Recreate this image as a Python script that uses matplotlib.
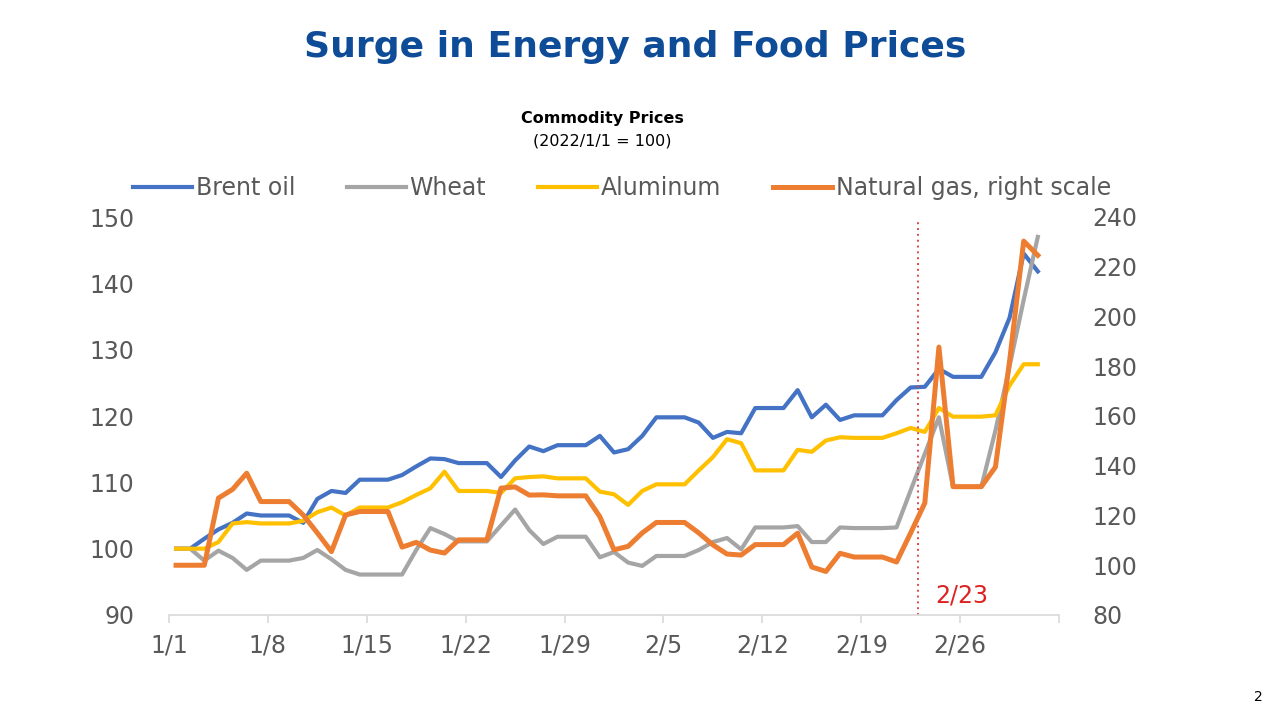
import pandas as pd
import matplotlib
matplotlib.use("Agg")
import matplotlib.pyplot as plt

# -----------------------------
# Data (index, 2022/1/1 = 100)
# -----------------------------
dates = pd.date_range("2022-01-01", "2022-03-03", freq="D")

brent = [
    100.0, 100.0, 101.5, 102.9, 103.9, 105.3, 105.0, 105.0, 105.0, 103.9,
    107.5, 108.7, 108.4, 110.4, 110.4, 110.4, 111.1, 112.4, 113.6, 113.5,
    112.9, 112.9, 112.9, 110.8, 113.3, 115.4, 114.7, 115.6, 115.6, 115.6,
    117.0, 114.5, 115.0, 117.0, 119.8, 119.8, 119.8, 119.0, 116.7, 117.6,
    117.4, 121.2, 121.2, 121.2, 123.9, 119.8, 121.7, 119.4, 120.1, 120.1,
    120.1, 122.4, 124.3, 124.4, 127.1, 125.9, 125.9, 125.9, 129.6, 134.8,
    144.5, 141.8,
]

wheat = [
    100.0, 100.0, 98.2, 99.7, 98.6, 96.8, 98.2, 98.2, 98.2, 98.6,
    99.8, 98.4, 96.8, 96.1, 96.1, 96.1, 96.1, 99.8, 103.1, 102.2,
    101.1, 101.1, 101.1, 103.5, 105.9, 102.8, 100.7, 101.8, 101.8, 101.8,
    98.7, 99.5, 97.9, 97.4, 98.9, 98.9, 98.9, 99.8, 101.0, 101.6,
    99.9, 103.2, 103.2, 103.2, 103.4, 101.0, 101.0, 103.2, 103.1, 103.1,
    103.1, 103.2, 108.8, 114.3, 119.8, 109.3, 109.3, 109.3, 117.8, 127.5,
    137.5, 147.0,
]

aluminum = [
    100.0, 100.0, 100.0, 101.0, 103.8, 104.0, 103.8, 103.8, 103.8, 104.2,
    105.5, 106.2, 105.0, 106.2, 106.2, 106.2, 107.0, 108.1, 109.1, 111.6,
    108.7, 108.7, 108.7, 108.4, 110.6, 110.8, 110.9, 110.6, 110.6, 110.6,
    108.6, 108.2, 106.6, 108.7, 109.7, 109.7, 109.7, 111.8, 113.8, 116.5,
    115.9, 111.8, 111.8, 111.8, 114.9, 114.6, 116.3, 116.8, 116.7, 116.7,
    116.7, 117.4, 118.2, 117.6, 121.2, 119.9, 119.9, 119.9, 120.1, 124.6,
    127.8, 127.8,
]

natural_gas = [
    100.0, 100.0, 100.0, 127.0, 130.5, 137.0, 125.6, 125.6, 125.6, 120.2,
    113.0, 105.5, 120.2, 121.6, 121.6, 121.6, 107.3, 109.2, 106.1, 104.9,
    110.2, 110.2, 110.2, 131.0, 131.5, 128.2, 128.3, 127.9, 127.9, 127.9,
    119.5, 106.2, 107.6, 113.0, 117.2, 117.2, 117.2, 113.0, 108.2, 104.5,
    104.1, 108.3, 108.3, 108.3, 112.9, 99.3, 97.5, 104.8, 103.3, 103.3,
    103.3, 101.3, 113.0, 125.0, 187.7, 131.6, 131.6, 131.6, 139.5, 182.0,
    230.3, 224.6,
]

tick_labels = ["1/1", "1/8", "1/15", "1/22", "1/29", "2/5", "2/12", "2/19", "2/26", ""]
event_day = pd.Timestamp("2022-02-23")

# -----------------------------
# Style
# -----------------------------
plt.rcParams["font.family"] = ["DejaVu Sans"]

BLUE = "#4472C4"
GRAY = "#A5A5A5"
GOLD = "#FFC000"
ORANGE = "#ED7D31"
TEXT = "#595959"

# day positions, each point sits in the middle of its day slot
x = [(d - dates[0]).days + 0.5 for d in dates]
x_event = (event_day - dates[0]).days

fig = plt.figure(figsize=(12.8, 7.2), dpi=100)
ax = fig.add_axes([169 / 1280, 1 - 615 / 720, 890 / 1280, 398 / 720])
ax2 = ax.twinx()

ax.plot(x, brent, color=BLUE, lw=3.0, label="Brent oil", solid_joinstyle="round")
ax.plot(x, wheat, color=GRAY, lw=3.0, label="Wheat", solid_joinstyle="round")
ax.plot(x, aluminum, color=GOLD, lw=3.0, label="Aluminum", solid_joinstyle="round")
ax2.plot(x, natural_gas, color=ORANGE, lw=3.6, label="Natural gas, right scale",
         solid_joinstyle="round")

ax.axvline(x_event, ymin=0, ymax=0.987, color="#E04848", lw=1.4, ls=(0, (1, 2)))
ax.text(x_event + 3.1, 92.9, "2/23", color="#DD2222", fontsize=17, ha="center", va="center")

# -----------------------------
# Axes
# -----------------------------
ax.set_xlim(0, 63)
ax.set_ylim(90, 150)
ax2.set_ylim(80, 240)
ax.set_xticks(range(0, 64, 7))
ax.set_xticklabels(tick_labels)
ax.set_yticks(range(90, 151, 10))
ax2.set_yticks(range(80, 241, 20))

for a in (ax, ax2):
    for s in a.spines.values():
        s.set_visible(False)
ax.spines["bottom"].set_visible(True)
ax.spines["bottom"].set_color("#D9D9D9")
ax.spines["bottom"].set_linewidth(1.2)

ax.tick_params(axis="x", colors="#D9D9D9", length=6, width=1.2, pad=7,
               labelsize=17, labelcolor=TEXT)
ax.tick_params(axis="y", length=0, pad=25, labelsize=17, labelcolor=TEXT)
ax2.tick_params(axis="y", length=0, pad=24, labelsize=17, labelcolor=TEXT)

# legend
h1, l1 = ax.get_legend_handles_labels()
h2, l2 = ax2.get_legend_handles_labels()
fig.legend(h1 + h2, l1 + l2, loc="center", bbox_to_anchor=(622 / 1280, 1 - 188 / 720),
           ncol=4, frameon=False, fontsize=17, labelcolor=TEXT, handlelength=2.5,
           handletextpad=0.15, columnspacing=2.2, borderpad=0)

# -----------------------------
# Titles
# -----------------------------
fig.text(635 / 1280, 1 - 47 / 720, "Surge in Energy and Food Prices", ha="center",
         va="center", fontsize=26, fontweight="heavy", color="#0F4C97")
fig.text(602 / 1280, 1 - 118 / 720, "Commodity Prices", ha="center", va="center",
         fontsize=11.5, fontweight="bold", color="black")
fig.text(602 / 1280, 1 - 141 / 720, "(2022/1/1 = 100)", ha="center", va="center",
         fontsize=11.5, color="black")
fig.text(1258 / 1280, 1 - 697 / 720, "2", ha="center", va="center", fontsize=10,
         color="black")

fig.savefig("out.png", dpi=100)
